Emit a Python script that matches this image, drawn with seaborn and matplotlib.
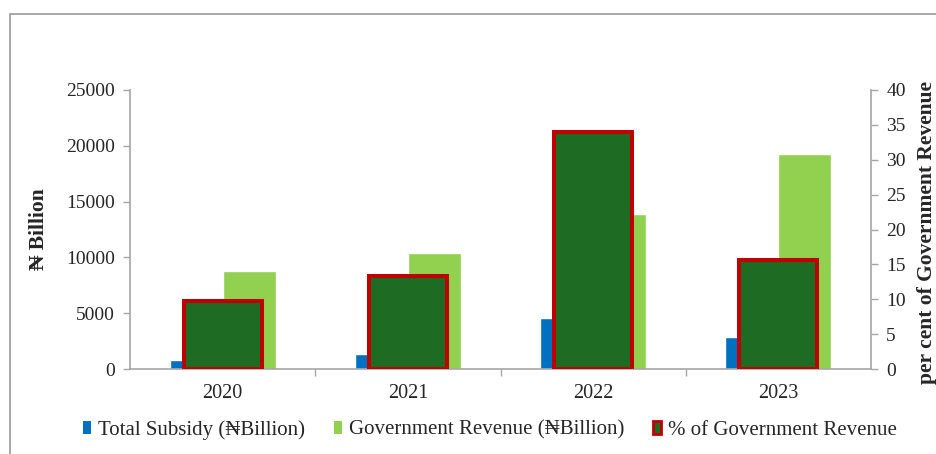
import matplotlib
matplotlib.use("Agg")
import matplotlib.pyplot as plt
from matplotlib.patches import Patch, Rectangle
import seaborn as sns
import pandas as pd

sns.set_theme(style="white")
plt.rcParams["font.family"] = ["Liberation Serif", "DejaVu Serif"]

years = ["2020", "2021", "2022", "2023"]
subsidy = [780, 1320, 4610, 2900]          # ₦ Billion
revenue = [8810, 10370, 13850, 19300]      # ₦ Billion
pct_revenue = [9.8, 13.4, 34.0, 15.6]      # per cent of government revenue

series_names = ["Total Subsidy (₦Billion)", "Government Revenue (₦Billion)",
                "% of Government Revenue"]

BLUE = "#0070C0"
LIGHT_GREEN = "#92D050"
DARK_GREEN = "#1E6B24"
RED = "#C00000"
AXIS_GREY = "#A6A6A6"

df = pd.DataFrame({
    "year": years * 2,
    "series": [series_names[0]] * 4 + [series_names[1]] * 4,
    "value": subsidy + revenue,
})
df_pct = pd.DataFrame({"year": years, "pct": pct_revenue})

fig = plt.figure(figsize=(9.36, 4.54), dpi=100)
ax = fig.add_axes([130 / 936, 1 - 369 / 454, 741 / 936, 279 / 454])

sns.barplot(data=df, x="year", y="value", hue="series",
            palette=[BLUE, LIGHT_GREEN], width=0.573, dodge=True,
            saturation=1, legend=False, ax=ax)

ax2 = ax.twinx()
sns.barplot(data=df_pct, x="year", y="pct", color=DARK_GREEN, width=0.42,
            saturation=1, edgecolor=RED, linewidth=2.9, ax=ax2)

ax.set_xlim(-0.5, 3.5)
ax.set_ylim(0, 25000)
ax2.set_ylim(0, 40)
ax.set_yticks(range(0, 25001, 5000))
ax2.set_yticks(range(0, 41, 5))

# category labels centred, tick marks between categories
ax.set_xticks(range(4))
ax.set_xticklabels(years)
ax.set_xticks([0.5, 1.5, 2.5], minor=True)
ax.tick_params(axis="x", which="major", length=0, pad=11, labelsize=14.5)
ax.tick_params(axis="x", which="minor", length=5, width=1, color=AXIS_GREY,
               direction="out", bottom=True)
ax.tick_params(axis="y", length=5, width=1, color=AXIS_GREY, direction="out",
               labelsize=14, pad=6, left=True)
ax2.tick_params(axis="y", length=5, width=1, color=AXIS_GREY, direction="out",
                labelsize=14, pad=6, right=True)

for a in (ax, ax2):
    a.spines["top"].set_visible(False)
    for side in ("left", "right", "bottom"):
        a.spines[side].set_color(AXIS_GREY)
        a.spines[side].set_linewidth(1.2)
ax.spines["right"].set_visible(False)
ax2.spines["left"].set_visible(False)
ax2.spines["bottom"].set_visible(False)

ax.set_xlabel("")
ax.set_ylabel("₦ Billion", fontsize=15.5, fontweight="bold")
ax.yaxis.set_label_coords(-0.109, 0.5)
ax2.set_xlabel("")
ax2.set_ylabel("per cent of Government Revenue", fontsize=15.5,
               fontweight="bold", rotation=90)
ax2.yaxis.set_label_coords(1.0615, 0.49)

handles = [Patch(facecolor=BLUE, edgecolor="none"),
           Patch(facecolor=LIGHT_GREEN, edgecolor="none"),
           Patch(facecolor=DARK_GREEN, edgecolor=RED, linewidth=2)]
fig.legend(handles, series_names, loc="center", ncol=3, frameon=False,
           bbox_to_anchor=(490 / 936, 1 - 430 / 454), fontsize=15,
           handlelength=0.4, handleheight=0.55, handletextpad=0.35,
           columnspacing=1.35)

# outer chart frame
fig.patches.append(Rectangle((10 / 936, -0.1), 1.2, 1 - 14 / 454 + 0.1,
                             transform=fig.transFigure, fill=False,
                             edgecolor="#9A9A9A", linewidth=1.2))

fig.savefig("out.png", dpi=100)
